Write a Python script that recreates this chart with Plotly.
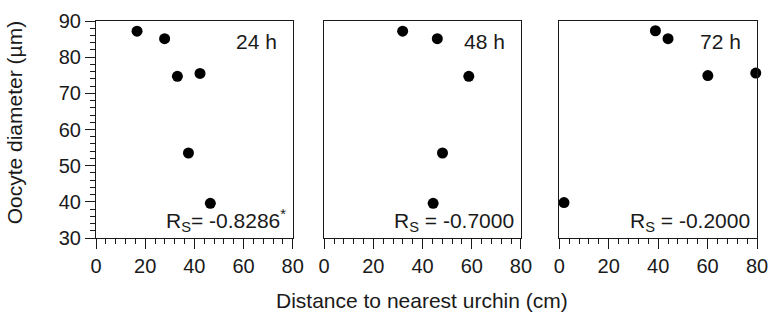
import plotly.graph_objects as go

# Data
dist_24 = [16.7, 27.9, 33.1, 42.3, 37.6, 46.5]
diam_24 = [87.2, 85.1, 74.7, 75.5, 53.5, 39.6]
dist_48 = [31.9, 46.0, 58.8, 48.1, 44.3]
diam_48 = [87.2, 85.1, 74.7, 53.5, 39.6]
dist_72 = [38.9, 44.0, 60.1, 79.5, 1.9]
diam_72 = [87.3, 85.1, 74.9, 75.6, 39.8]

panel_labels = ["24 h", "48 h", "72 h"]
rs_labels = ["R<sub>S</sub>= -0.8286<sup>*</sup>", "R<sub>S</sub> = -0.7000", "R<sub>S</sub> = -0.2000"]
x_title = "Distance to nearest urchin (cm)"
y_title = "Oocyte diameter (µm)"

FONT = "Liberation Sans, Arial, Helvetica, sans-serif"
INK = "#1a1a1a"

series = [(dist_24, diam_24), (dist_48, diam_48), (dist_72, diam_72)]
domains = [[0.0, 0.2976], [0.3452, 0.6429], [0.7009, 1.0]]

fig = go.Figure()
for i, (xs, ys) in enumerate(series):
    sfx = "" if i == 0 else str(i + 1)
    fig.add_trace(go.Scatter(
        x=xs, y=ys, mode="markers",
        marker=dict(size=11, color="black", line=dict(width=0)),
        xaxis="x" + sfx, yaxis="y" + sfx, cliponaxis=False, showlegend=False,
    ))

layout = dict(
    width=778, height=321,
    margin=dict(l=96, r=10, t=13, b=83),
    paper_bgcolor="white", plot_bgcolor="white",
    font=dict(family=FONT, size=20, color=INK),
    showlegend=False,
)
for i in range(3):
    sfx = "" if i == 0 else str(i + 1)
    layout["xaxis" + sfx] = dict(
        domain=domains[i], range=[0, 80], anchor="y" + sfx,
        tickvals=[0, 20, 40, 60, 80], ticks="outside", ticklen=10, tickwidth=1.2,
        tickcolor=INK, showline=True, linecolor=INK, linewidth=1.2, mirror=True,
        showgrid=False, zeroline=False,
        minor=dict(dtick=4, tick0=0, ticks="outside", ticklen=5, tickwidth=1, tickcolor=INK, showgrid=False),
        tickfont=dict(size=20, color=INK),
    )
    ydict = dict(
        domain=[0, 1], range=[30, 90], anchor="x" + sfx,
        showline=True, linecolor=INK, linewidth=1.2, mirror=True,
        showgrid=False, zeroline=False,
    )
    if i == 0:
        ydict.update(
            tickvals=[30, 40, 50, 60, 70, 80, 90], ticks="outside", ticklen=10, tickwidth=1.2,
            tickcolor=INK, tickfont=dict(size=20, color=INK),
            minor=dict(dtick=2, tick0=30, ticks="outside", ticklen=5, tickwidth=1, tickcolor=INK, showgrid=False),
        )
    else:
        ydict.update(showticklabels=False, ticks="")
    layout["yaxis" + sfx] = ydict

annotations = []
for i in range(3):
    sfx = "" if i == 0 else str(i + 1)
    annotations.append(dict(
        text=panel_labels[i], xref="x" + sfx + " domain", yref="y" + sfx + " domain",
        x=0.93, y=0.904, xanchor="right", yanchor="middle", showarrow=False,
        font=dict(size=21, color=INK, family=FONT),
    ))
    annotations.append(dict(
        text=rs_labels[i], xref="x" + sfx + " domain", yref="y" + sfx + " domain",
        x=0.975, y=0.005, xanchor="right", yanchor="bottom", showarrow=False,
        font=dict(size=21, color=INK, family=FONT),
    ))
annotations.append(dict(
    text=x_title, xref="paper", yref="paper", x=0.4926, y=-0.29,
    xanchor="center", yanchor="middle", showarrow=False,
    font=dict(size=21, color=INK, family=FONT),
))
annotations.append(dict(
    text=y_title, xref="paper", yref="paper", x=-0.1220, y=0.53,
    xanchor="center", yanchor="middle", textangle=-90, showarrow=False,
    font=dict(size=21, color=INK, family=FONT),
))
layout["annotations"] = annotations

fig.update_layout(**layout)
fig.write_html("out.html")
